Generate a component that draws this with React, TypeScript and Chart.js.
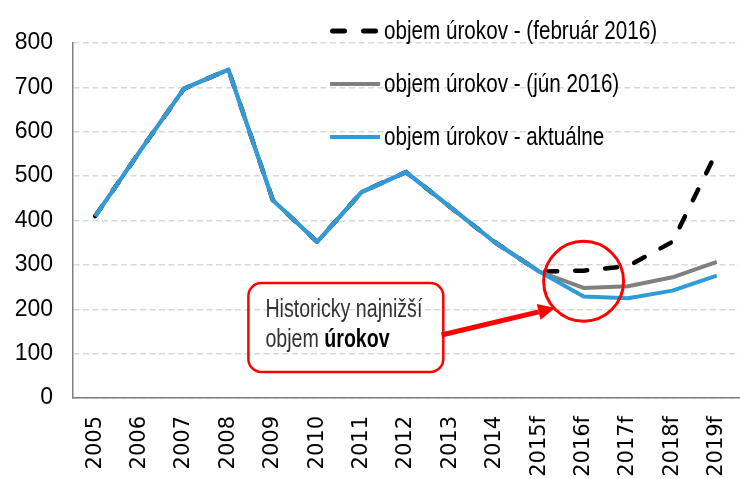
import React, { useEffect, useRef } from "react";
import { Chart, registerables } from "chart.js";

Chart.register(...registerables);

const years = ["2005", "2006", "2007", "2008", "2009", "2010", "2011", "2012", "2013", "2014", "2015f", "2016f", "2017f", "2018f", "2019f"];
const febValues = [410, 555, 697, 740, 446, 352, 464, 509, 430, 351, 285, 287, 297, 352, 555];
const junValues = [410, 555, 697, 740, 446, 352, 464, 509, 430, 351, 285, 248, 252, 272, 307];
const actualValues = [410, 555, 697, 740, 446, 352, 464, 509, 430, 351, 285, 229, 225, 242, 276];
const seriesNames = ["objem úrokov - (február 2016)", "objem úrokov - (jún 2016)", "objem úrokov - aktuálne"];
const calloutLine1 = "Historicky najnižší";
const calloutLine2a = "objem ";
const calloutLine2b = "úrokov";

const BLUE = "#2f9bd9";
const GRAY = "#808080";
const BLACK = "#000000";
const RED = "#ff0000";
const NARROW = "'Liberation Sans Narrow', 'Liberation Sans', Arial, sans-serif";

const overlayPlugin = {
  id: "overlay",
  afterDatasetsDraw(chart: any) {
    const { ctx, scales } = chart;
    const x = scales.x;
    const y = scales.y;
    ctx.save();
    // circle
    const step = x.getPixelForValue(1) - x.getPixelForValue(0);
    const cx = x.getPixelForValue(11);
    const cy = y.getPixelForValue(263);
    ctx.strokeStyle = RED;
    ctx.lineWidth = 3;
    ctx.beginPath();
    ctx.arc(cx, cy, step * 0.9, 0, Math.PI * 2);
    ctx.stroke();

    // arrow
    const sx = x.getPixelForValue(7.8);
    const sy = y.getPixelForValue(142);
    const tx = x.getPixelForValue(10.36);
    const ty = y.getPixelForValue(203);
    const ang = Math.atan2(ty - sy, tx - sx);
    const headLen = 17;
    const headHalf = 8;
    const bx = tx - Math.cos(ang) * headLen;
    const by = ty - Math.sin(ang) * headLen;
    ctx.lineWidth = 5;
    ctx.lineCap = "butt";
    ctx.beginPath();
    ctx.moveTo(sx, sy);
    ctx.lineTo(bx, by);
    ctx.stroke();
    ctx.fillStyle = RED;
    ctx.beginPath();
    ctx.moveTo(tx, ty);
    ctx.lineTo(bx + Math.sin(ang) * headHalf, by - Math.cos(ang) * headHalf);
    ctx.lineTo(bx - Math.sin(ang) * headHalf, by + Math.cos(ang) * headHalf);
    ctx.closePath();
    ctx.fill();

    // box
    const l = x.getPixelForValue(3.45);
    const r = x.getPixelForValue(7.84);
    const t = y.getPixelForValue(259);
    const b = y.getPixelForValue(58.5);
    ctx.lineWidth = 2.5;
    ctx.beginPath();
    (ctx as any).roundRect(l, t, r - l, b - t, 13);
    ctx.stroke();

    // text
    ctx.textBaseline = "alphabetic";
    ctx.textAlign = "left";
    ctx.font = `26px ${NARROW}`;
    const w1 = ctx.measureText(calloutLine1).width;
    const sc = 157 / w1;
    const tx0 = l + 17;
    ctx.fillStyle = "#333333";
    ctx.save();
    ctx.translate(tx0, t + 34);
    ctx.scale(sc, 1);
    ctx.fillText(calloutLine1, 0, 0);
    ctx.restore();
    ctx.save();
    ctx.translate(tx0, t + 64);
    ctx.scale(sc, 1);
    ctx.fillText(calloutLine2a, 0, 0);
    const wa = ctx.measureText(calloutLine2a).width;
    ctx.font = `bold 26px ${NARROW}`;
    ctx.fillStyle = "#000000";
    ctx.fillText(calloutLine2b, wa, 0);
    ctx.restore();
    ctx.restore();
  },
  afterDraw(chart: any) {
    const { ctx, scales, chartArea } = chart;
    const x = scales.x;
    const colors = [BLACK, GRAY, BLUE];
    const widths = [5, 4, 4];
    ctx.save();
    ctx.font = `25px ${NARROW}`;
    const sc = 273 / ctx.measureText(seriesNames[0]).width;
    const lx = x.getPixelForValue(5.29);
    for (let i = 0; i < seriesNames.length; i++) {
      const ly = chartArea.top - 12 + i * 53;
      ctx.strokeStyle = colors[i];
      ctx.lineWidth = widths[i];
      if (i === 0) {
        ctx.lineCap = "round";
        ctx.setLineDash([12, 19]);
        ctx.beginPath();
        ctx.moveTo(lx + 2.5, ly);
        ctx.lineTo(lx + 48, ly);
        ctx.stroke();
        ctx.setLineDash([]);
      } else {
        ctx.lineCap = "butt";
        ctx.beginPath();
        ctx.moveTo(lx, ly);
        ctx.lineTo(lx + 50, ly);
        ctx.stroke();
      }
      ctx.fillStyle = "#000000";
      ctx.textBaseline = "alphabetic";
      ctx.save();
      ctx.translate(lx + 54, ly + 8);
      ctx.scale(sc, 1);
      ctx.fillText(seriesNames[i], 0, 0);
      ctx.restore();
    }
    ctx.restore();
  },
};

export default function App() {
  const ref = useRef<HTMLCanvasElement>(null);
  useEffect(() => {
    document.body.style.margin = "0";
    const canvas = ref.current;
    if (!canvas) return;
    const chart = new Chart(canvas, {
      type: "line",
      data: {
        labels: years,
        datasets: [
          {
            label: seriesNames[2],
            data: actualValues,
            borderColor: BLUE,
            borderWidth: 4,
            pointRadius: 0,
            tension: 0,
            borderJoinStyle: "round",
          },
          {
            label: seriesNames[1],
            data: junValues,
            borderColor: GRAY,
            borderWidth: 4,
            pointRadius: 0,
            tension: 0,
            borderJoinStyle: "round",
          },
          {
            label: seriesNames[0],
            data: febValues,
            borderColor: BLACK,
            borderWidth: 4.5,
            borderDash: [12, 18],
            borderCapStyle: "round",
            pointRadius: 0,
            tension: 0,
          },
        ],
      },
      options: {
        responsive: false,
        animation: false,
        devicePixelRatio: 1,
        layout: { padding: { top: 43, right: 1, left: 0, bottom: 0 } },
        plugins: { legend: { display: false }, tooltip: { enabled: false } },
        scales: {
          x: {
            offset: true,
            grid: { display: true, drawOnChartArea: false, drawTicks: false },
            border: { display: true, color: GRAY, width: 1.5 },
            ticks: {
              minRotation: 90,
              maxRotation: 90,
              autoSkip: false,
              padding: 18,
              color: "#000000",
              font: { family: "'DejaVu Sans', sans-serif", size: 21 },
            },
            afterFit: (scale: any) => {
              scale.height = 81;
              scale.paddingLeft = 0;
              scale.paddingRight = 0;
            },
          },
          y: {
            min: 0,
            max: 800,
            ticks: {
              stepSize: 100,
              padding: 20,
              color: "#000000",
              font: { family: "'Liberation Sans', Arial, sans-serif", size: 23 },
            },
            grid: { color: "#d9d9d9", lineWidth: 1.5, drawTicks: false },
            border: { display: true, color: GRAY, width: 1.5, dash: [6, 3.5] },
            afterFit: (scale: any) => {
              scale.width = 73;
              scale.paddingTop = 0;
              scale.paddingBottom = 0;
            },
          },
        },
      },
      plugins: [overlayPlugin],
    });
    return () => chart.destroy();
  }, []);
  return (
    <div style={{ position: "fixed", left: 0, top: 0, width: 740, height: 479, background: "#ffffff" }}>
      <canvas ref={ref} width={740} height={479} style={{ display: "block", width: 740, height: 479 }} />
    </div>
  );
}
